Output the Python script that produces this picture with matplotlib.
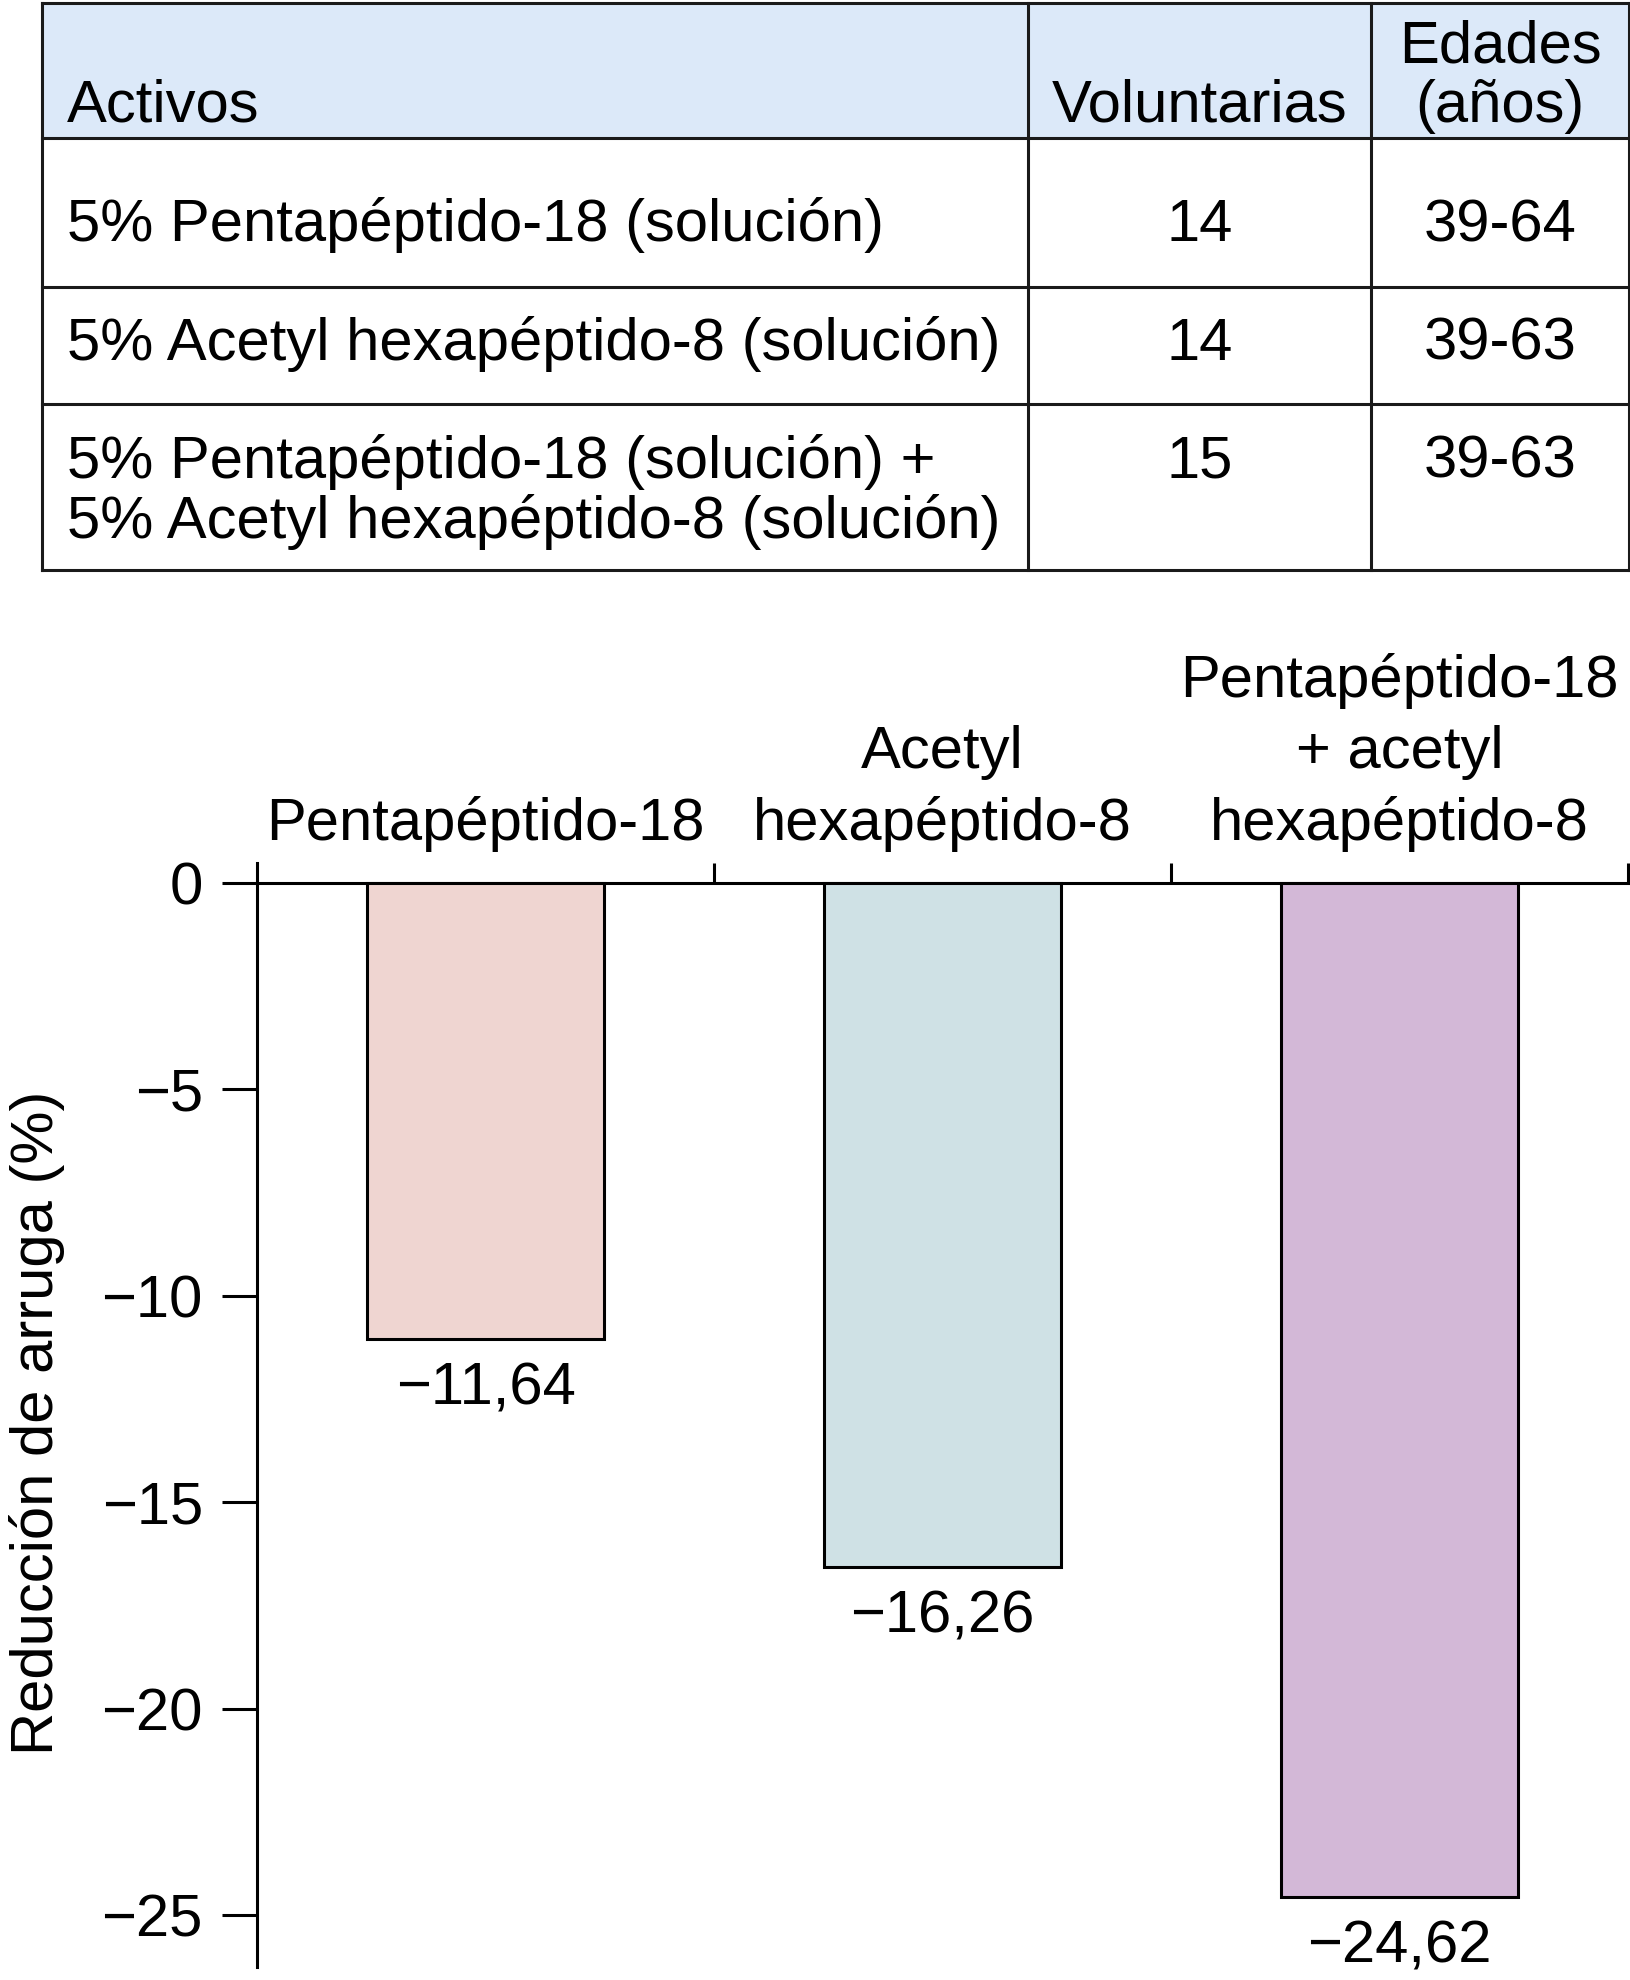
import matplotlib
matplotlib.use("Agg")
import matplotlib.pyplot as plt
from matplotlib.patches import Rectangle

plt.rcParams['font.family'] = ['Liberation Sans', 'DejaVu Sans']
plt.rcParams['axes.unicode_minus'] = True

# ---------------- data ----------------
table_header = ["Activos", "Voluntarias", "Edades\n(años)"]
activos = ["5% Pentapéptido-18 (solución)",
           "5% Acetyl hexapéptido-8 (solución)",
           "5% Pentapéptido-18 (solución) +\n5% Acetyl hexapéptido-8 (solución)"]
voluntarias = [14, 14, 15]
edades = ["39-64", "39-63", "39-63"]

categories = ["Pentapéptido-18",
              "Acetyl\nhexapéptido-8",
              "Pentapéptido-18\n+ acetyl\nhexapéptido-8"]
bar_heights = [-11.04, -16.56, -24.55]          # bar lengths as drawn
value_labels = ["−11,64", "−16,26", "−24,62"]   # printed values
bar_colors = ["#efd5d1", "#cfe1e5", "#d3b8d7"]
yticks = [0, -5, -10, -15, -20, -25]
ylabel = "Reducción de arruga (%)"

# ---------------- figure ----------------
W, H = 1631, 1980
DPI = 100
FS = 43.0
LW = 2.2
fig = plt.figure(figsize=(W / DPI, H / DPI), dpi=DPI)

# overlay axes in pixel coordinates for the table
bg = fig.add_axes([0, 0, 1, 1])
bg.set_xlim(0, W)
bg.set_ylim(H, 0)
bg.axis('off')

col_edges = [42, 1028, 1371, 1629]
row_edges = [3, 138, 287, 404, 570]
header_fill = "#dce9f9"
line_col = "#1a1a1a"

bg.add_patch(Rectangle((col_edges[0], row_edges[0]), col_edges[-1] - col_edges[0],
                       row_edges[1] - row_edges[0], facecolor=header_fill,
                       edgecolor='none', zorder=0))
for y in row_edges:
    bg.plot([col_edges[0], col_edges[-1]], [y, y], color=line_col, lw=LW,
            solid_capstyle='projecting', zorder=2)
for x in col_edges:
    bg.plot([x, x], [row_edges[0], row_edges[-1]], color=line_col, lw=LW,
            solid_capstyle='projecting', zorder=2)

text_x = [67, 1200, 1500]
text_ha = ['left', 'center', 'center']
line_gap = 59.5

# header: last line baseline at 122
for j, htxt in enumerate(table_header):
    lines = htxt.split('\n')
    for k, ln in enumerate(reversed(lines)):
        bg.text(text_x[j], 122 - k * line_gap, ln, ha=text_ha[j], va='baseline',
                fontsize=FS, color='black')

row_baselines = [241, 360, 478]
for r in range(3):
    cells = [activos[r], str(voluntarias[r]), edades[r]]
    for j, ctxt in enumerate(cells):
        for k, ln in enumerate(ctxt.split('\n')):
            bg.text(text_x[j], row_baselines[r] + k * line_gap, ln, ha=text_ha[j],
                    va='baseline', fontsize=FS, color='black')

# ---------------- bar chart ----------------
ax_left, ax_right = 257 / W, 1628 / W
ax_top, ax_bottom = 1 - 862.7 / H, 1 - 1967 / H
ax = fig.add_axes([ax_left, ax_bottom, ax_right - ax_left, ax_top - ax_bottom])
ax.patch.set_alpha(0)

x = list(range(len(categories)))
ax.bar(x, bar_heights, width=0.52, color=bar_colors, edgecolor='black',
       linewidth=LW, zorder=3)

ax.set_xlim(-0.5, len(categories) - 0.5)
ax.set_ylim(-26.25, 0.49)

for s in ['top', 'right']:
    ax.spines[s].set_visible(False)
ax.spines['bottom'].set_position(('data', 0))
ax.spines['bottom'].set_linewidth(LW)
ax.spines['left'].set_linewidth(LW)

ax.set_xticks([0.5, 1.5, 2.5])
ax.set_xticklabels([])
ax.tick_params(axis='x', direction='in', length=14.4, width=LW)

ax.set_yticks(yticks)
ax.tick_params(axis='y', direction='out', length=25, width=LW, pad=14,
               labelsize=FS)

# category labels above the zero line (line by line)
for i, cat in enumerate(categories):
    for k, ln in enumerate(reversed(cat.split('\n'))):
        ax.annotate(ln, xy=(i, 0), xytext=(0, 31 + 51.5 * k),
                    textcoords='offset points', ha='center', va='baseline',
                    fontsize=FS, annotation_clip=False)

# value labels under bars
for i, (h, lab) in enumerate(zip(bar_heights, value_labels)):
    ax.annotate(lab, xy=(i, h), xytext=(0, -47.5), textcoords='offset points',
                ha='center', va='baseline', fontsize=FS, annotation_clip=False)

fig.text(37 / W, 1 - 1423 / H, ylabel, rotation=90, ha='center', va='center',
         fontsize=FS)

fig.savefig("out.png", dpi=DPI)
